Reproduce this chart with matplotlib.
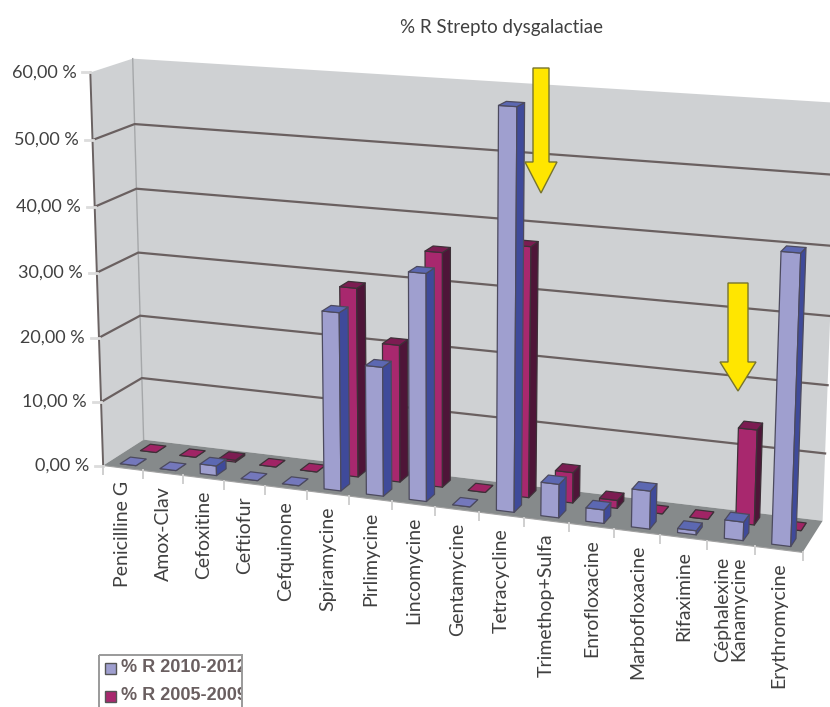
import numpy as np
import matplotlib
matplotlib.use('Agg')
import matplotlib.pyplot as plt
from matplotlib.patches import Polygon, Rectangle, FancyArrow

plt.rcParams['font.family'] = ['Lato', 'DejaVu Sans']

# data
categories = ['Penicilline G', 'Amox-Clav', 'Cefoxitine', 'Ceftiofur', 'Cefquinone',
              'Spiramycine', 'Pirlimycine', 'Lincomycine', 'Gentamycine', 'Tetracycline',
              'Trimethop+Sulfa', 'Enrofloxacine', 'Marbofloxacine', 'Rifaximine',
              'Céphalexine\nKanamycine', 'Erythromycine']
r_2010_2012 = [0.0, 0.0, 1.5, 0.0, 0.0, 27.0, 19.5, 34.0, 0.0, 58.8,
               5.0, 2.0, 5.6, 0.6, 2.7, 41.5]
r_2005_2009 = [0.0, 0.0, 0.3, 0.0, 0.0, 29.0, 21.0, 35.5, 0.0, 37.5,
               4.6, 1.2, 0.0, 0.0, 14.0, 0.0]
y_ticks = [0, 10, 20, 30, 40, 50, 60]
y_tick_labels = ['0,00 %', '10,00 %', '20,00 %', '30,00 %', '40,00 %', '50,00 %', '60,00 %']
legend_labels = ['% R 2010-2012', '% R 2005-2009']

# 3D box of the chart: (category, depth, value) -> pixel, used to solve the camera
box_model = np.array([[0, 0, 0], [0, 0, 60], [0, 1, 0], [0, 1, 60],
                      [16, 0, 0], [16, 1, 0], [16, 1, 60],
                      [4, 0, 0], [8, 0, 0], [12, 0, 0]], dtype=float)
box_pixel = np.array([[103, 465], [90, 72], [143, 440], [133, 59],
                      [803, 553], [823, 520], [838, 103],
                      [267, 486], [435, 507], [613, 529]], dtype=float)


def solve_camera(model, pixel):
    rows, rhs = [], []
    for (c, d, v), (px, py) in zip(model, pixel):
        rows.append([c, d, v, 1, 0, 0, 0, 0, -px * c, -px * d, -px * v])
        rows.append([0, 0, 0, 0, c, d, v, 1, -py * c, -py * d, -py * v])
        rhs += [px, py]
    p = np.linalg.lstsq(np.array(rows), np.array(rhs), rcond=None)[0]
    return np.append(p, 1.0).reshape(3, 4)


camera = solve_camera(box_model, box_pixel)


def project(c, d, v):
    h = camera @ np.array([c, d, v, 1.0])
    return h[0] / h[2], h[1] / h[2]


fig = plt.figure(figsize=(8.3, 7.07), dpi=100)
ax = fig.add_axes([0, 0, 1, 1])
ax.set_xlim(0, 830)
ax.set_ylim(707, 0)
ax.axis('off')

n = len(categories)
wall_color = '#cfd1d3'
floor_color = '#868a8b'
grid_color = '#6a6060'
text_color = '#404040'


def face(points, **kw):
    kw.setdefault('joinstyle', 'round')
    ax.add_patch(Polygon([project(*p) for p in points], closed=True, **kw))


# walls and floor
face([(0, 0, 0), (0, 0, 60), (0, 1, 60), (0, 1, 0)], fc=wall_color, ec='none', zorder=1)
face([(0, 1, 0), (0, 1, 60), (n, 1, 60), (n, 1, 0)], fc=wall_color, ec='none', zorder=1)
face([(0, 0, 0), (0, 1, 0), (n, 1, 0), (n, 0, 0)], fc=floor_color, ec='none', zorder=1)

# axis lines
ax.plot(*zip(project(0, 0, 0), project(0, 0, 60)), color='#6a6262', lw=1.4, zorder=2)
ax.plot(*zip(project(0, 1, 0), project(0, 1, 60)), color='#a5a7a9', lw=1.0, zorder=2)
ax.plot(*zip(project(0, 0, 0), project(n, 0, 0)), color='#a2a2a2', lw=0.8, zorder=2)

# gridlines round the two walls
for v in y_ticks[1:-1]:
    pts = [project(0, 0, v), project(0, 1, v), project(n, 1, v)]
    ax.plot(*zip(*pts), color=grid_color, lw=1.6, zorder=2, solid_joinstyle='round')

# value axis
for v, lab in zip(y_ticks, y_tick_labels):
    x, y = project(0, 0, v)
    ax.plot([x - 8, x], [y, y], color='#dcdcdc', lw=2, zorder=2)
    ax.text(x - 14, y, lab, ha='right', va='center', fontsize=13, color=text_color)

# category ticks and labels
for i in range(n + 1):
    x, y = project(i, 0, 0)
    ax.plot([x, x], [y, y + 8], color='#cfcfcf', lw=1.4, zorder=2)
for i, lab in enumerate(categories):
    x, y = project(i + 0.5, 0, 0)
    ax.text(x, y + 13, lab, rotation=90, ha='center', va='top', ma='center',
            fontsize=14, color=text_color, linespacing=0.9)

# one series per depth row, the rear row is drawn first
rows = [(r_2005_2009, 0.625, 0.875, '#a8286e', '#4e1538', '#7c1c52', '#a02465', '#3e3038'),
        (r_2010_2012, 0.125, 0.375, '#9f9fcf', '#3f4a9a', '#5c68b2', '#7478bc', '#4c4a5e')]
for values, d0, d1, front, side, top, flat, edge in rows:
    for i, val in enumerate(values):
        c0, c1 = i + 0.3, i + 0.7
        face([(c0, d0, 0), (c1, d0, 0), (c1, d0, val), (c0, d0, val)],
             fc=front, ec=edge, lw=0.9, zorder=3)
        face([(c1, d0, 0), (c1, d1, 0), (c1, d1, val), (c1, d0, val)],
             fc=side, ec=edge, lw=0.9, zorder=3)
        face([(c0, d0, val), (c1, d0, val), (c1, d1, val), (c0, d1, val)],
             fc=top if val > 0 else flat, ec=edge, lw=0.9, zorder=3)

# yellow arrows
for x, y0, y1, shaft, head, head_len in [(541, 68, 193, 16, 32, 31), (738, 283, 391, 20, 36, 29)]:
    ax.add_patch(FancyArrow(x, y0, 0, y1 - y0, width=shaft, head_width=head, head_length=head_len,
                            length_includes_head=True, fc='#ffe600', ec='#77742e', lw=1.0, zorder=5))

ax.text(501, 27, '% R Strepto dysgalactiae', ha='center', va='center', fontsize=13.5, color=text_color)

# legend box, cut off at the right side and at the bottom of the figure
legend_box = Rectangle((99, 655), 143, 60, fc='white', ec='none', zorder=6)
ax.add_patch(legend_box)
for lab, y, col in zip(legend_labels, [668, 696], ['#9f9fcf', '#a8286e']):
    ax.add_patch(Rectangle((105, y - 5), 11, 11, fc=col, ec='#555555', lw=1.0, zorder=7))
    t = ax.text(121, y, lab, ha='left', va='center', fontsize=13, color='#6a5f60', zorder=7,
                family='Liberation Sans', fontweight='bold')
    # ax.text resets the clip path, so it has to be set afterwards
    t.set_clip_path(legend_box)
    t.set_clip_on(True)
ax.add_patch(Rectangle((99, 655), 143, 60, fc='none', ec='#9a9a9a', lw=1.4, zorder=8))

plt.savefig('out.png', dpi=100)
